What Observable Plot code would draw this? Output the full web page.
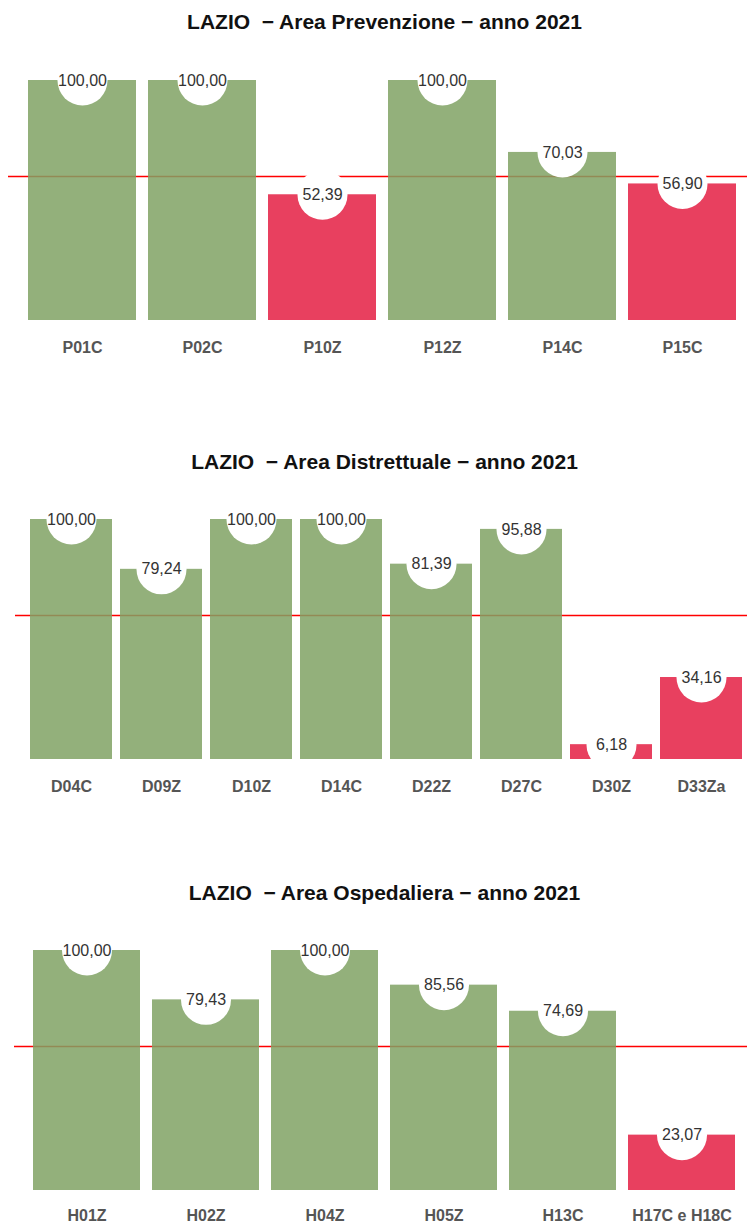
<!DOCTYPE html>
<html><head><meta charset="utf-8">
<script src="https://cdn.jsdelivr.net/npm/d3@7"></script>
<script src="https://cdn.jsdelivr.net/npm/@observablehq/plot@0.6"></script>
<style>
body{margin:0;background:#fff;font-family:Arial,"Liberation Sans",sans-serif;width:747px;overflow:hidden}
.title{height:40px;box-sizing:border-box;padding-top:10px;line-height:24px;font-size:21px;font-weight:bold;color:#111;text-align:center;padding-left:22px;white-space:pre}
svg{display:block}
</style></head><body><div id="c"></div>
<script>
// ---- data ----
const prevTitle = "LAZIO  − Area Prevenzione − anno 2021";
const prevCodes = ["P01C", "P02C", "P10Z", "P12Z", "P14C", "P15C"];
const prevValues = [100.00, 100.00, 52.39, 100.00, 70.03, 56.90];

const distTitle = "LAZIO  − Area Distrettuale − anno 2021";
const distCodes = ["D04C", "D09Z", "D10Z", "D14C", "D22Z", "D27C", "D30Z", "D33Za"];
const distValues = [100.00, 79.24, 100.00, 100.00, 81.39, 95.88, 6.18, 34.16];

const ospTitle = "LAZIO  − Area Ospedaliera − anno 2021";
const ospCodes = ["H01Z", "H02Z", "H04Z", "H05Z", "H13C", "H17C e H18C"];
const ospValues = [100.00, 79.43, 100.00, 85.56, 74.69, 23.07];

const threshold = 60;
const yDomain = [0, 100];

// ---- styles ----
const GREEN = "#80a264";
const RED = "#e41f43";
const FONT = "Arial, 'Liberation Sans', sans-serif";

function panel(title, codes, values, opt) {
  const data = codes.map((c, i) => ({code: c, value: values[i]}));
  const wrap = document.createElement("div");
  const t = document.createElement("div");
  t.className = "title";
  t.textContent = title;
  wrap.appendChild(t);
  const chart = Plot.plot({
    width: 747,
    height: opt.height,
    marginTop: opt.mt,
    marginBottom: opt.mb,
    marginLeft: opt.ml,
    marginRight: opt.mr,
    style: {fontFamily: FONT, background: "white", overflow: "visible"},
    x: {domain: codes, paddingInner: opt.pi, paddingOuter: opt.po, label: null},
    y: {domain: yDomain, axis: null},
    color: {domain: ["ok", "ko"], range: [GREEN, RED]},
    marks: [
      Plot.ruleY([threshold], {stroke: "#ff0000", strokeWidth: 1.4, insetLeft: opt.il, insetRight: -opt.mr}),
      Plot.barY(data, {x: "code", y: "value", fill: d => d.value >= threshold ? "ok" : "ko", fillOpacity: 0.85}),
      Plot.dot(data, {x: "code", y: "value", r: 25, fill: "white"}),
      Plot.text(data, {x: "code", y: "value", text: d => d.value.toFixed(2).replace(".", ","), fontSize: 16, fill: "#333"}),
      Plot.axisX({tickSize: 0, tickPadding: opt.tp, fontSize: 16, fontWeight: "bold", color: "#555"})
    ]
  });
  wrap.appendChild(chart);
  document.getElementById("c").appendChild(wrap);
}

panel(prevTitle, prevCodes, prevValues, {height: 400, mt: 40, mb: 120, ml: 21, mr: 4, pi: 0.1, po: 0.05, il: -13, tp: 21});
panel(distTitle, distCodes, distValues, {height: 391, mt: 39, mb: 112, ml: 25, mr: 0, pi: 0.09, po: 0.03, il: -10, tp: 21});
panel(ospTitle, ospCodes, ospValues, {height: 313, mt: 39, mb: 34, ml: 26, mr: 4, pi: 0.1, po: 0.05, il: -12, tp: 19});
</script></body></html>
